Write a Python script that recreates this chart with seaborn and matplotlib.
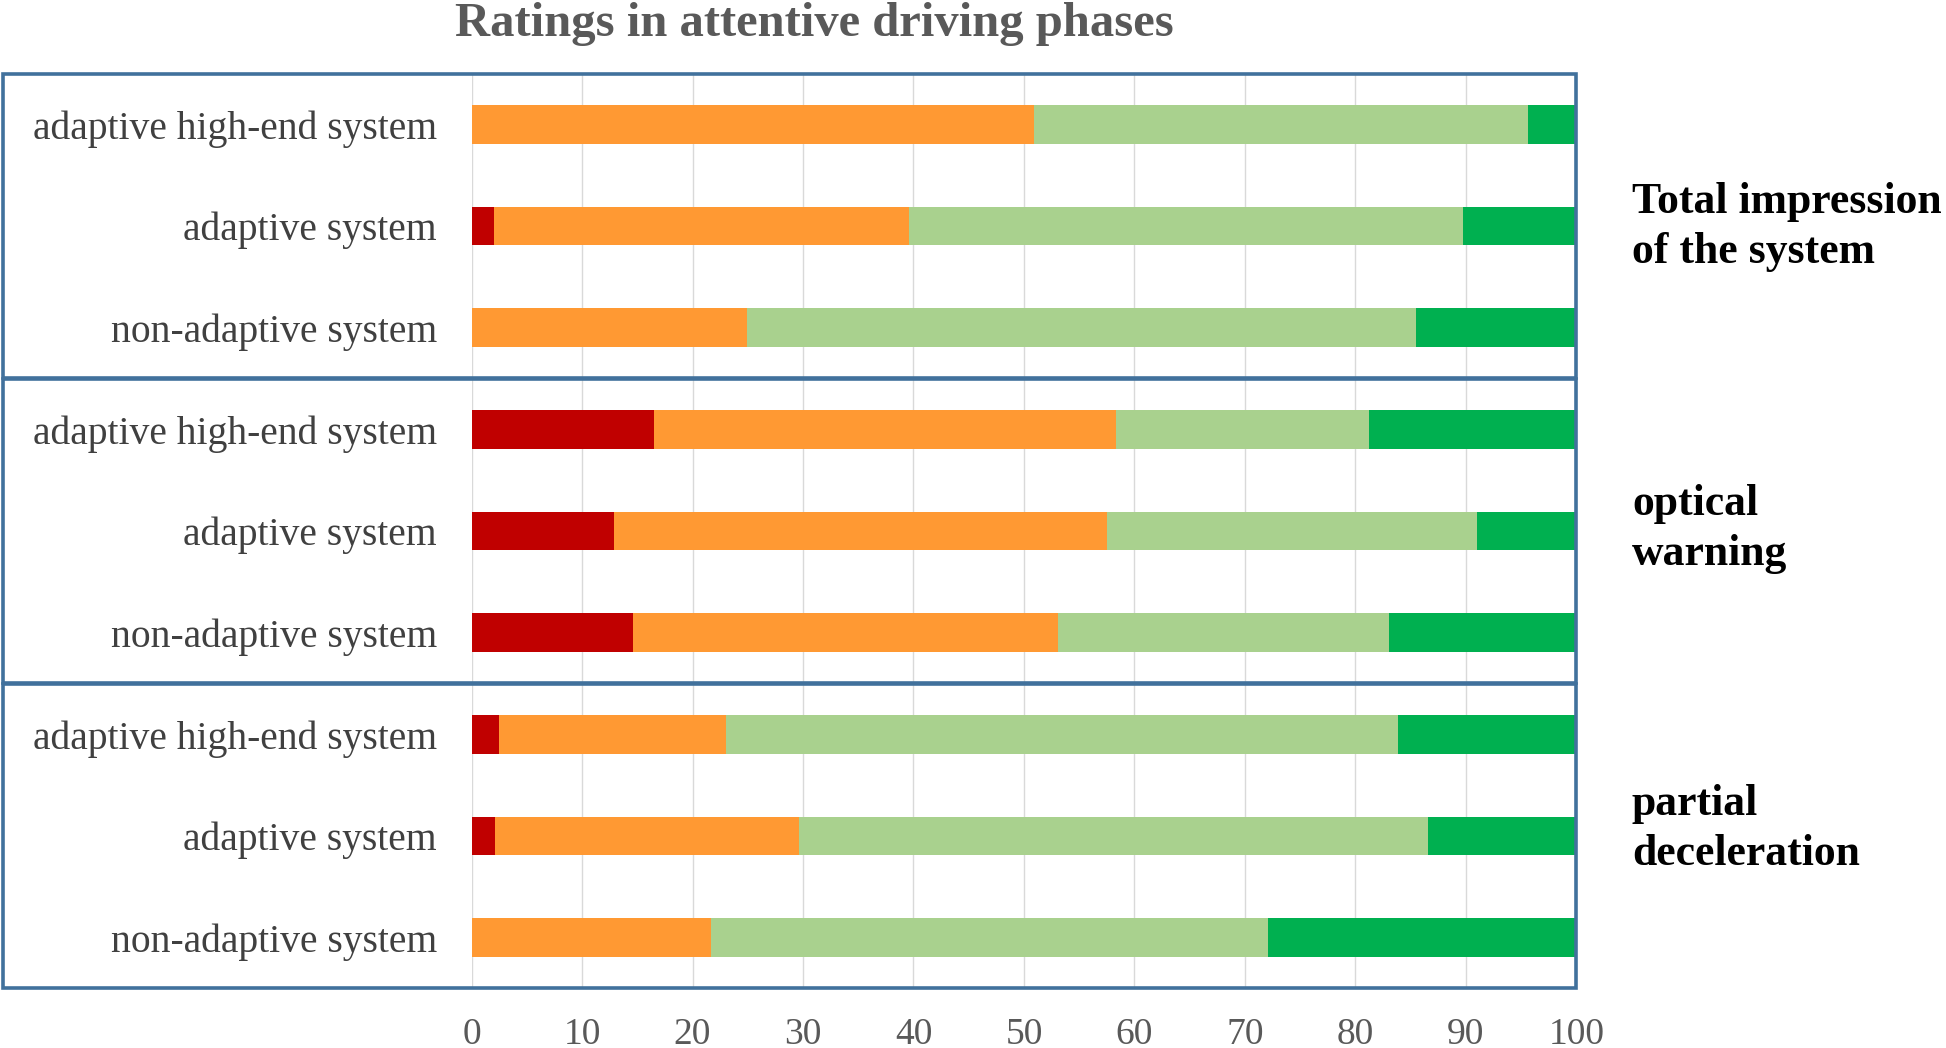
import matplotlib
matplotlib.use("Agg")
import matplotlib.pyplot as plt
from matplotlib.patches import Rectangle
import seaborn as sns
import pandas as pd
import numpy as np

# ---- data ----
categories = ["adaptive high-end system", "adaptive system", "non-adaptive system"]
panel_titles = ["Total impression\nof the system", "optical\nwarning", "partial\ndeceleration"]
rating_levels = ["very bad", "bad", "good", "very good"]
ticks = [0, 10, 20, 30, 40, 50, 60, 70, 80, 90, 100]

total_very_bad = [0.0, 2.0, 0.0]
total_bad = [50.9, 37.6, 24.9]
total_good = [44.7, 50.1, 60.6]
total_very_good = [4.4, 10.3, 14.5]

optical_very_bad = [16.5, 12.9, 14.6]
optical_bad = [41.8, 44.6, 38.5]
optical_good = [22.9, 33.5, 29.9]
optical_very_good = [18.8, 9.0, 17.0]

partial_very_bad = [2.5, 2.1, 0.0]
partial_bad = [20.5, 27.5, 21.7]
partial_good = [60.9, 57.0, 50.4]
partial_very_good = [16.1, 13.4, 27.9]

colors = ["#C00000", "#FF9933", "#A9D18E", "#00B050"]
box_color = "#41719C"

panels_data = [
    [total_very_bad, total_bad, total_good, total_very_good],
    [optical_very_bad, optical_bad, optical_good, optical_very_good],
    [partial_very_bad, partial_bad, partial_good, partial_very_good],
]

sns.set_style("white")
plt.rcParams["font.family"] = ["Liberation Serif", "DejaVu Serif"]

W, H = 1946, 1048
fig = plt.figure(figsize=(W / 100, H / 100), dpi=100)

ax_left = 471.6 / W
ax_width = (1576.3 - 471.6) / W
panel_tops = [74, 379, 684]
panel_h = 304

axes = []
for p, (top, series) in enumerate(zip(panel_tops, panels_data)):
    ax = fig.add_axes([ax_left, 1 - (top + panel_h) / H, ax_width, panel_h / H])
    axes.append(ax)
    df = pd.DataFrame({"category": categories})
    cum = np.zeros(len(categories))
    cums = []
    for vals in series:
        cum = cum + np.array(vals)
        cums.append(cum.copy())
    # draw from the largest cumulative to the smallest so segments appear stacked
    for lvl in range(len(series) - 1, -1, -1):
        df["value"] = cums[lvl]
        sns.barplot(data=df, x="value", y="category", order=categories, orient="h",
                    color=colors[lvl], width=0.38, linewidth=0, edgecolor="none",
                    saturation=1, ax=ax)
    ax.set_xlim(0, 100)
    ax.set_ylim(2.5, -0.5)
    ax.set_xticks(ticks)
    ax.xaxis.grid(True, color="#D9D9D9", linewidth=1)
    ax.set_axisbelow(True)
    ax.set_xlabel("")
    ax.set_ylabel("")
    for s in ax.spines.values():
        s.set_visible(False)
    ax.tick_params(axis="y", length=0, pad=25, labelsize=28.5, labelcolor="#404040")
    ax.tick_params(axis="x", length=0, pad=21, labelsize=27, labelcolor="#595959")
    if p < 2:
        ax.set_xticklabels([])
    # panel box
    fig.add_artist(Rectangle((2.5 / W, 1 - (top + panel_h) / H), (1576 - 2.5) / W, panel_h / H,
                             transform=fig.transFigure, fill=False,
                             edgecolor=box_color, linewidth=2.6, zorder=10))

label_centers = [227, 529, 829]
for t, yc in zip(panel_titles, label_centers):
    fig.text(1632 / W, 1 - yc / H, t, ha="left", va="center", fontsize=31.5,
             fontweight="bold", color="black", linespacing=1.35)

fig.text(814 / W, 1 - 24 / H, "Ratings in attentive driving phases", ha="center", va="center",
         fontsize=35, fontweight="bold", color="#595959")

fig.savefig("out.png", dpi=100)
